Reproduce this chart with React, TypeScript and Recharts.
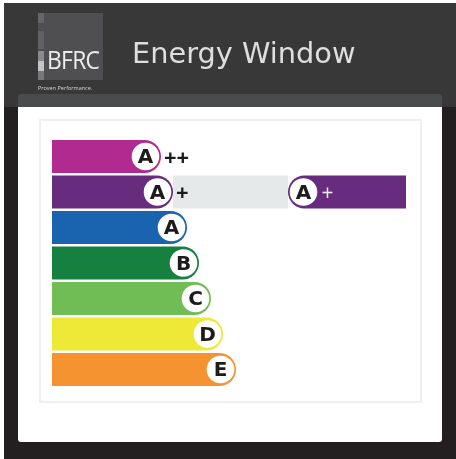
import { BarChart, Bar, XAxis, YAxis } from 'recharts';

const ratings = ['A++', 'A+', 'A', 'B', 'C', 'D', 'E'];
const bandLengths = [109, 121, 135, 147, 159, 171, 184];
const gapLengths = [0, 115, 0, 0, 0, 0, 0];
const markerLengths = [0, 118, 0, 0, 0, 0, 0];
const bandColors = ['#b12a8f', '#682c7f', '#1a63ae', '#15803f', '#6fbd54', '#eee836', '#f59331'];

const chartData = ratings.map((rating, i) => ({
  rating,
  band: bandLengths[i],
  gap: gapLengths[i],
  marker: markerLengths[i],
  color: bandColors[i],
}));

const letterFont = '"DejaVu Sans", sans-serif';
const plusFont = '"Open Sans", sans-serif';

// barra com a ponta direita arredondada e o circulo da letra
function BandShape(props: any) {
  const { x, y, width, height, payload } = props;
  const r = height / 2;
  const cy = y + r;
  const cx = x + width - 15.5;
  const plus = payload.rating.slice(1);
  return (
    <g>
      <path
        d={`M${x},${y} H${x + width - r} A${r},${r} 0 0 1 ${x + width - r},${y + height} H${x} Z`}
        fill={payload.color}
      />
      <circle cx={cx} cy={cy} r={13.8} fill="#fff" />
      <text x={cx} y={cy + 6.5} textAnchor="middle" fontFamily={letterFont} fontWeight={700} fontSize={20} fill="#1c1c1c">
        {payload.rating[0]}
      </text>
      {plus && !payload.gap && (
        <text x={x + width + 3} y={cy + 8} fontFamily={plusFont} fontWeight={700} fontSize={22} fill="#1c1c1c">
          {plus}
        </text>
      )}
    </g>
  );
}

// fundo cinza entre a barra e o marcador; o "+" preto fica por cima dele
function GapShape(props: any) {
  const { x, y, width, height, payload } = props;
  if (!width) return null;
  return (
    <g>
      <rect x={x} y={y} width={width} height={height} fill="#e6e9e9" />
      <text x={x + 3} y={y + height / 2 + 8} fontFamily={plusFont} fontWeight={700} fontSize={22} fill="#1c1c1c">
        {payload.rating.slice(1)}
      </text>
    </g>
  );
}

// marcador do valor, aberto para a direita
function MarkerShape(props: any) {
  const { x, y, width, height, payload } = props;
  if (!width) return null;
  const r = height / 2;
  const cy = y + r;
  const cx = x + 15.5;
  return (
    <g>
      <path
        d={`M${x + width},${y} H${x + r} A${r},${r} 0 0 0 ${x + r},${y + height} H${x + width} Z`}
        fill={payload.color}
      />
      <circle cx={cx} cy={cy} r={13.8} fill="#fff" />
      <text x={cx} y={cy + 6.5} textAnchor="middle" fontFamily={letterFont} fontWeight={700} fontSize={20} fill="#1c1c1c">
        {payload.rating[0]}
      </text>
      <text x={cx + 18} y={cy + 8} fontFamily={plusFont} fontWeight={400} fontSize={21} fill="#f0e8f2">
        {payload.rating.slice(1)}
      </text>
    </g>
  );
}

const box = (left: number, top: number, width: number, height: number, extra: object = {}) => ({
  position: 'absolute' as const,
  left,
  top,
  width,
  height,
  ...extra,
});

export default function App() {
  return (
    <div style={{ ...box(0, 0, 456, 459, { background: '#fff', overflow: 'hidden', filter: 'blur(0.6px)' }) }}>
      <div style={box(4, 3, 452, 456, { background: '#231f20' })} />
      <div style={box(4, 3, 452, 104, { background: '#383838' })} />
      <div style={box(18, 94, 424, 20, { background: '#4a4b4d', borderRadius: '3px 3px 0 0' })} />
      <div style={box(18, 107, 424, 335, { background: '#fff', borderRadius: '0 0 3px 3px' })} />
      <div style={box(39, 119, 379, 280, { border: '2px solid #eef0f0' })} />

      <div style={box(38, 13, 65, 67, { background: '#4f4f51' })} />
      <div style={box(38, 13, 6, 10, { background: '#66666a' })} />
      <div style={box(38, 31, 6, 18, { background: '#626265' })} />
      <div style={box(38, 51, 6, 10, { background: '#8a8a8c' })} />
      <div style={box(38, 61, 6, 10, { background: '#c4c4c4' })} />
      <div style={box(38, 71, 6, 9, { background: '#77777a' })} />
      <div
        style={box(47, 44, 70, 30, {
          color: '#ececec',
          fontFamily: '"Open Sans", sans-serif',
          fontSize: 26,
          lineHeight: '30px',
          letterSpacing: -0.8,
          whiteSpace: 'nowrap',
          transform: 'scaleX(0.88)',
          transformOrigin: 'left center',
        })}
      >
        BFRC
      </div>
      <div
        style={box(38, 84, 70, 8, {
          color: '#d8d8d8',
          fontFamily: '"Open Sans", sans-serif',
          fontSize: 5.5,
          lineHeight: '8px',
          whiteSpace: 'nowrap',
        })}
      >
        Proven Performance.
      </div>
      <div
        style={box(132, 34, 240, 38, {
          color: '#dedede',
          fontFamily: '"DejaVu Sans", sans-serif',
          fontSize: 28.8,
          lineHeight: '38px',
          whiteSpace: 'nowrap',
        })}
      >
        Energy Window
      </div>

      <div style={box(0, 0, 456, 459)}>
        <BarChart
          width={456}
          height={459}
          data={chartData}
          layout="vertical"
          barSize={33}
          margin={{ top: 139, right: 50, bottom: 71.5, left: 52 }}
        >
          <XAxis type="number" domain={[0, 354]} hide />
          <YAxis type="category" dataKey="rating" hide />
          <Bar dataKey="band" stackId="a" isAnimationActive={false} shape={BandShape} />
          <Bar dataKey="gap" stackId="a" isAnimationActive={false} shape={GapShape} />
          <Bar dataKey="marker" stackId="a" isAnimationActive={false} shape={MarkerShape} />
        </BarChart>
      </div>
    </div>
  );
}
